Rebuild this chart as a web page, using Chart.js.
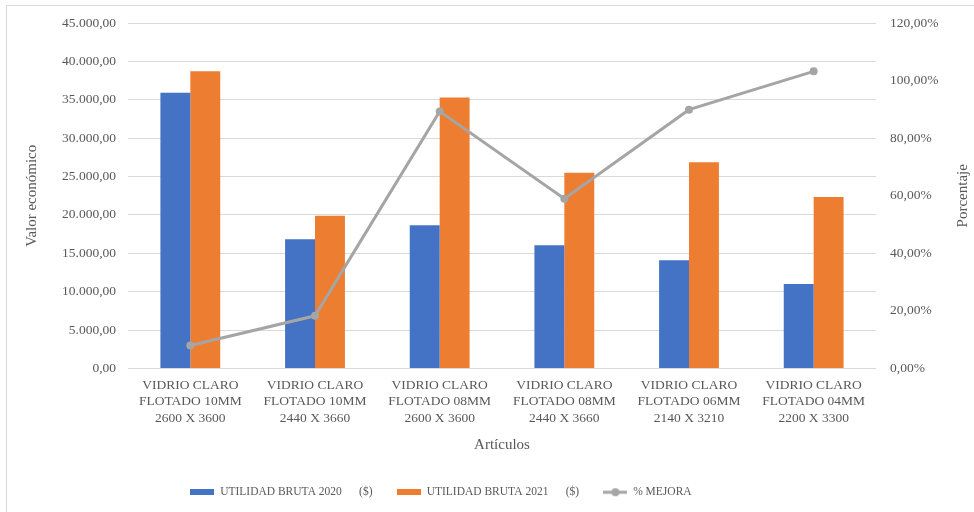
<!DOCTYPE html>
<html>
<head>
<meta charset="utf-8">
<script src="https://cdn.jsdelivr.net/npm/chart.js@4.4.1/dist/chart.umd.min.js"></script>
<style>
  html, body { margin: 0; padding: 0; background: #fff; }
  #wrap { position: relative; width: 974px; height: 512px; overflow: hidden; }
  #frame { position: absolute; left: 6px; top: 5px; width: 1000px; height: 600px;
           border-left: 1px solid #d9d9d9; border-top: 1px solid #d9d9d9; pointer-events: none; }
  canvas { position: absolute; left: 0; top: 0; }
</style>
</head>
<body>
<div id="wrap">
  <canvas id="UtilidadChart" width="974" height="512"></canvas>
  <div id="frame"></div>
</div>
<script>
        // Articulos (one label per glass type, split in three lines)
        const articulos = [
            ['VIDRIO CLARO', 'FLOTADO 10MM', '2600 X 3600'],
            ['VIDRIO CLARO', 'FLOTADO 10MM', '2440 X 3660'],
            ['VIDRIO CLARO', 'FLOTADO 08MM', '2600 X 3600'],
            ['VIDRIO CLARO', 'FLOTADO 08MM', '2440 X 3660'],
            ['VIDRIO CLARO', 'FLOTADO 06MM', '2140 X 3210'],
            ['VIDRIO CLARO', 'FLOTADO 04MM', '2200 X 3300']
        ];

        // Utilidad bruta ($)
        const utilidad2020 = [35900, 16850, 18650, 16050, 14100, 11000];
        const utilidad2021 = [38700, 19900, 35300, 25500, 26870, 22350];

        // % mejora
        const mejora = [8.0, 18.3, 89.3, 59.0, 89.9, 103.2];

        // trailing blanks keep the legend row where it belongs
        const serie1 = 'UTILIDAD BRUTA 2020      ($)     ';
        const serie2 = 'UTILIDAD BRUTA 2021      ($)     ';
        const serie3 = '% MEJORA' + ' '.repeat(32);

        const gris = '#595959';
        const serif = '"Liberation Serif", "Times New Roman", serif';

        // formats 45000 -> "45.000,00"
        function formatoMiles(v) {
            const partes = v.toFixed(2).split('.');
            partes[0] = partes[0].replace(/\B(?=(\d{3})+(?!\d))/g, '.');
            return partes.join(',');
        }

        // small legend swatches
        function swatch(w, h, draw) {
            const c = document.createElement('canvas');
            c.width = w; c.height = h;
            draw(c.getContext('2d'));
            return c;
        }
        const boxAzul = swatch(24, 6, g => { g.fillStyle = '#4472C4'; g.fillRect(0, 0, 24, 6); });
        const boxNaranja = swatch(24, 6, g => { g.fillStyle = '#ED7D31'; g.fillRect(0, 0, 24, 6); });
        const lineaGris = swatch(24, 10, g => {
            g.strokeStyle = '#A5A5A5'; g.lineWidth = 3;
            g.beginPath(); g.moveTo(0, 5); g.lineTo(24, 5); g.stroke();
            g.fillStyle = '#A5A5A5';
            g.beginPath(); g.arc(12, 5, 4, 0, Math.PI * 2); g.fill();
        });
        const simbolos = [boxAzul, boxNaranja, lineaGris];

        // right axis title reads bottom-to-top like the left one
        const tituloDerecho = {
            id: 'tituloDerecho',
            afterDraw(chart) {
                const ctx = chart.ctx;
                const area = chart.chartArea;
                ctx.save();
                ctx.translate(963, (area.top + area.bottom) / 2);
                ctx.rotate(-Math.PI / 2);
                ctx.font = '15px ' + serif;
                ctx.fillStyle = gris;
                ctx.textAlign = 'center';
                ctx.textBaseline = 'middle';
                ctx.fillText('Porcentaje', 0, 0);
                ctx.restore();
            }
        };

        const ctx_Utilidad = document.getElementById('UtilidadChart').getContext('2d');

        const chart = new Chart(ctx_Utilidad, {
            type: 'bar',
            data: {
                labels: articulos,
                datasets: [{
                    label: serie1,
                    data: utilidad2020,
                    backgroundColor: '#4472C4',
                    yAxisID: 'y',
                    order: 1
                }, {
                    label: serie2,
                    data: utilidad2021,
                    backgroundColor: '#ED7D31',
                    yAxisID: 'y',
                    order: 1
                }, {
                    type: 'line',
                    label: serie3,
                    data: mejora,
                    borderColor: '#A5A5A5',
                    backgroundColor: '#A5A5A5',
                    borderWidth: 3,
                    pointRadius: 4,
                    pointBackgroundColor: '#A5A5A5',
                    pointBorderWidth: 0,
                    tension: 0,
                    yAxisID: 'y1',
                    order: 0 // line on top of the bars
                }]
            },
            options: {
                responsive: false,
                animation: false,
                devicePixelRatio: 1,
                layout: {
                    padding: { top: 23, left: 0, right: 0, bottom: 4 }
                },
                datasets: {
                    bar: {
                        categoryPercentage: 0.48,
                        barPercentage: 1.0
                    }
                },
                plugins: {
                    legend: {
                        position: 'bottom',
                        labels: {
                            usePointStyle: true,
                            pointStyleWidth: 24,
                            padding: 10,
                            color: gris,
                            font: { family: serif, size: 11.5 },
                            sort: (a, b) => a.datasetIndex - b.datasetIndex,
                            generateLabels(chart) {
                                const items = Chart.defaults.plugins.legend.labels.generateLabels(chart);
                                items.forEach(it => { it.pointStyle = simbolos[it.datasetIndex]; });
                                return items;
                            }
                        }
                    },
                    tooltip: { enabled: false }
                },
                scales: {
                    x: {
                        grid: { display: false },
                        border: { display: false },
                        ticks: {
                            color: gris,
                            padding: 1,
                            maxRotation: 0,
                            autoSkip: false,
                            font: { family: serif, size: 13.5 }
                        },
                        title: {
                            display: true,
                            text: 'Artículos',
                            color: gris,
                            font: { family: serif, size: 15 },
                            padding: { top: 0, bottom: 22 }
                        },
                        afterFit: scale => { scale.height = 108; }
                    },
                    y: {
                        position: 'left',
                        min: 0,
                        max: 45000,
                        ticks: {
                            stepSize: 5000,
                            color: gris,
                            padding: 12,
                            font: { family: serif, size: 13.5 },
                            callback: v => formatoMiles(v)
                        },
                        grid: { color: '#d9d9d9', lineWidth: 1, drawTicks: false },
                        border: { display: false },
                        title: {
                            display: true,
                            text: 'Valor económico',
                            color: gris,
                            font: { family: serif, size: 15 },
                            padding: { top: 23, bottom: 0 }
                        },
                        afterFit: scale => { scale.width = 128; }
                    },
                    y1: {
                        position: 'right',
                        min: 0,
                        max: 120,
                        ticks: {
                            stepSize: 20,
                            color: gris,
                            padding: 14,
                            font: { family: serif, size: 13.5 },
                            callback: v => v.toFixed(2).replace('.', ',') + '%'
                        },
                        grid: { display: false, drawTicks: false },
                        border: { display: false },
                        afterFit: scale => { scale.width = 98; }
                    }
                }
            },
            plugins: [tituloDerecho]
        });
</script>
</body>
</html>
